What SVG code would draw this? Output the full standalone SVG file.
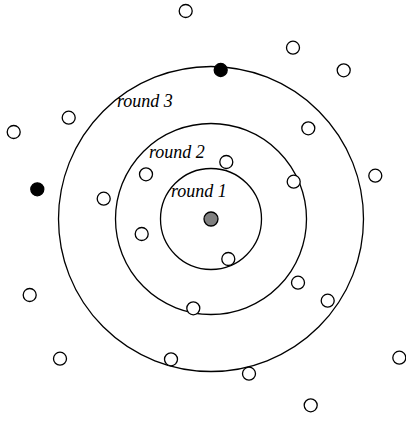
<svg xmlns="http://www.w3.org/2000/svg" width="406" height="422" viewBox="0 0 406 422">
<style>
.ring{fill:none;stroke:#000;stroke-width:1.3}
.n{fill:#fff;stroke:#000;stroke-width:1.3}
.b{fill:#000;stroke:#000;stroke-width:1.3}
.g{fill:#808080;stroke:#000;stroke-width:1.3}
.lbl{font-family:"Liberation Serif",serif;font-style:italic;font-size:18px;fill:#000}
</style>
<rect width="406" height="422" fill="#fff"/>
<g id="rings">
<circle class="ring" cx="211" cy="219" r="50.5"/>
<circle class="ring" cx="211" cy="219" r="95.5"/>
<circle class="ring" cx="211" cy="219" r="152.5"/>
</g>
<g id="labels">
<text class="lbl" x="117" y="107">round 3</text>
<text class="lbl" x="149" y="157.5">round 2</text>
<text class="lbl" x="171" y="196.5">round 1</text>
</g>
<g id="source"><circle class="g" cx="211" cy="219" r="7"/></g>
<g id="black1"><circle class="b" cx="220.7" cy="70" r="6.5"/></g>
<g id="black2"><circle class="b" cx="37.3" cy="189.3" r="6.5"/></g>
<g id="nodes">
<circle class="n" cx="185.7" cy="11" r="6.5"/>
<circle class="n" cx="293" cy="47.7" r="6.5"/>
<circle class="n" cx="343.7" cy="70.3" r="6.5"/>
<circle class="n" cx="68.7" cy="117.7" r="6.5"/>
<circle class="n" cx="13.7" cy="132" r="6.5"/>
<circle class="n" cx="308.3" cy="128.3" r="6.5"/>
<circle class="n" cx="226.3" cy="162" r="6.5"/>
<circle class="n" cx="146" cy="174.3" r="6.5"/>
<circle class="n" cx="293.7" cy="181.7" r="6.5"/>
<circle class="n" cx="375.3" cy="175.7" r="6.5"/>
<circle class="n" cx="103.7" cy="198.7" r="6.5"/>
<circle class="n" cx="141.7" cy="234" r="6.5"/>
<circle class="n" cx="228.3" cy="259" r="6.5"/>
<circle class="n" cx="29.7" cy="295" r="6.5"/>
<circle class="n" cx="298" cy="282.7" r="6.5"/>
<circle class="n" cx="327.7" cy="300.7" r="6.5"/>
<circle class="n" cx="193.3" cy="308.3" r="6.5"/>
<circle class="n" cx="60" cy="358.7" r="6.5"/>
<circle class="n" cx="171" cy="359.3" r="6.5"/>
<circle class="n" cx="249" cy="373.7" r="6.5"/>
<circle class="n" cx="399.3" cy="357.7" r="6.5"/>
<circle class="n" cx="310.7" cy="405.3" r="6.5"/>
</g>
</svg>
